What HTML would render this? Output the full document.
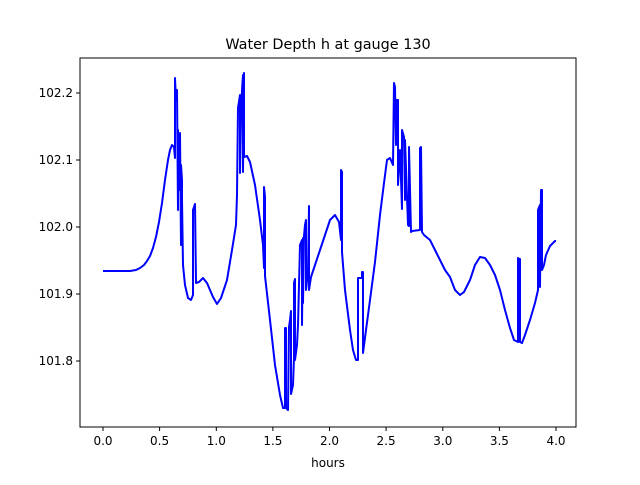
<!DOCTYPE html>
<html><head><meta charset="utf-8"><style>body{margin:0;background:#fff}</style></head><body>
<svg width="640" height="480" xmlns="http://www.w3.org/2000/svg" font-family="DejaVu Sans, Liberation Sans, sans-serif">
<rect width="640" height="480" fill="#fff"/>
<text x="328" y="49" font-size="14.4" text-anchor="middle">Water Depth h at gauge 130</text>
<polyline fill="none" stroke="#0000ff" stroke-width="2" stroke-linejoin="round" points="103,271 130,271 136,270 140,268 144,265 147,261 150,256 153,248 156,237 159,222 162,203 165,180 168,160 170,150 172,145 174,147 175,158 175,78 176,100 177,90 178,210 178,130 179,190 180,133 181,245 181,165 182,180 182,200 183,265 185,285 188,298 191,300 193,295 193,210 195,204 196,283 199,282 203,278 207,283 213,297 217,304 221,298 227,280 232,250 236,225 237,195 238,108 240,95 240,173 241,120 242,90 243,75 243,172 244,73 244,157 247,156 250,162 255,185 260,220 263,245 264,268 264,187 265,197 265,276 270,320 275,365 280,395 283,408 285,408 285,328 286,328 286,408 288,410 289,327 290,320 291,311 291,394 293,385 294,357 294,283 295,279 295,360 297,345 298,325 300,245 302,240 302,325 303,238 303,303 304,236 305,225 306,220 306,290 308,272 309,206 309,290 311,277 315,265 320,250 325,235 330,220 335,215 339,222 341,240 341,170 342,172 342,252 345,290 350,330 353,350 356,360 358,360 358,278 362,278 362,272 363,272 363,353 366,330 370,300 375,262 380,215 384,183 387,160 390,158 393,165 394,83 395,87 396,145 396,100 398,100 398,185 400,150 402,209 402,130 404,137 405,200 405,140 408,225 409,226 409,147 411,232 412,231 420,230 420,148 421,147 422,232 424,235 430,240 435,250 440,260 445,270 450,277 455,290 460,295 464,292 470,280 475,265 480,257 485,258 490,265 495,275 500,290 505,310 510,328 514,340 518,342 518,258 519,259 520,259 520,342 522,343 525,335 530,320 535,303 538,290 538,210 540,205 540,287 541,190 542,190 542,270 544,265 546,255 550,246 555,241 556,241"/>
<rect x="80" y="58" width="496" height="369" fill="none" stroke="#000" stroke-width="1"/>
<g stroke="#000" stroke-width="1">
<line x1="103" y1="427" x2="103" y2="431"/><line x1="159.6" y1="427" x2="159.6" y2="431"/><line x1="216.3" y1="427" x2="216.3" y2="431"/><line x1="272.9" y1="427" x2="272.9" y2="431"/><line x1="329.5" y1="427" x2="329.5" y2="431"/><line x1="386.1" y1="427" x2="386.1" y2="431"/><line x1="442.8" y1="427" x2="442.8" y2="431"/><line x1="499.4" y1="427" x2="499.4" y2="431"/><line x1="556" y1="427" x2="556" y2="431"/>
<line x1="76" y1="361" x2="80" y2="361"/><line x1="76" y1="294" x2="80" y2="294"/><line x1="76" y1="227" x2="80" y2="227"/><line x1="76" y1="160" x2="80" y2="160"/><line x1="76" y1="93" x2="80" y2="93"/>
</g>
<g font-size="12" text-anchor="middle">
<text x="103" y="445">0.0</text><text x="159.6" y="445">0.5</text><text x="216.3" y="445">1.0</text><text x="272.9" y="445">1.5</text><text x="329.5" y="445">2.0</text><text x="386.1" y="445">2.5</text><text x="442.8" y="445">3.0</text><text x="499.4" y="445">3.5</text><text x="556" y="445">4.0</text>
<text x="328" y="467">hours</text>
</g>
<g font-size="12" text-anchor="end">
<text x="73" y="365">101.8</text><text x="73" y="298">101.9</text><text x="73" y="231">102.0</text><text x="73" y="164">102.1</text><text x="73" y="97">102.2</text>
</g>
</svg>
</body></html>
